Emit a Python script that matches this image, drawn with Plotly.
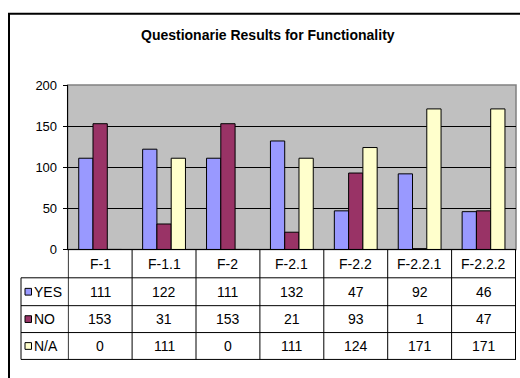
import plotly.graph_objects as go

categories = ["F-1", "F-1.1", "F-2", "F-2.1", "F-2.2", "F-2.2.1", "F-2.2.2"]
yes_vals = [111, 122, 111, 132, 47, 92, 46]
no_vals = [153, 31, 153, 21, 93, 1, 47]
na_vals = [0, 111, 0, 111, 124, 171, 171]
series_names = ["YES", "NO", "N/A"]
series_colors = ["#9999FF", "#993366", "#FFFFCC"]
title_text = "Questionarie Results for Functionality"

W, H = 520, 378
FONT = "Liberation Sans, Arial, sans-serif"

def px(x):
    return x / W

def py(y):
    return 1 - y / H

PL, PR, PT, PB = 67.7, 516.0, 81.3, 252.5
ROWS = [PB, 282.0, 311.0, 339.0, 367.0]
TL = 21.0

series = [yes_vals, no_vals, na_vals]

fig = go.Figure()
for name, vals, col in zip(series_names, series, series_colors):
    fig.add_trace(go.Bar(
        x=categories, y=vals, name=name,
        marker=dict(color=col, line=dict(color="black", width=1)),
        showlegend=False, hoverinfo="skip",
    ))

shapes = []
annotations = []

# outer frame
shapes.append(dict(type="rect", xref="paper", yref="paper",
                   x0=px(9), x1=px(540), y0=py(7), y1=py(400),
                   line=dict(color="black", width=2), layer="above"))
# plot area border (gray)
shapes.append(dict(type="rect", xref="x domain", yref="y domain",
                   x0=0, x1=1, y0=0, y1=1,
                   line=dict(color="#808080", width=1.5), layer="below"))

n = len(categories)
# horizontal table lines
for i, yy in enumerate(ROWS):
    x0 = px(PL) if i == 0 else px(TL)
    shapes.append(dict(type="line", xref="paper", yref="paper",
                       x0=x0, x1=px(PR), y0=py(yy), y1=py(yy),
                       line=dict(color="black", width=1)))
# vertical table lines
shapes.append(dict(type="line", xref="paper", yref="paper",
                   x0=px(TL), x1=px(TL), y0=py(ROWS[1]), y1=py(ROWS[-1]),
                   line=dict(color="black", width=1)))
for k in range(n + 1):
    shapes.append(dict(type="line", xref="x", yref="paper",
                       x0=k - 0.5, x1=k - 0.5, y0=py(PB), y1=py(ROWS[-1]),
                       line=dict(color="black", width=1)))

tfont = dict(family=FONT, size=14, color="black")
# category row
for i, c in enumerate(categories):
    annotations.append(dict(x=i, y=py((ROWS[0] + ROWS[1]) / 2), xref="x", yref="paper",
                            text=c, showarrow=False, font=tfont,
                            xanchor="center", yanchor="middle"))
# value rows
for r, (name, vals, col) in enumerate(zip(series_names, series, series_colors)):
    yc = (ROWS[r + 1] + ROWS[r + 2]) / 2
    for i, v in enumerate(vals):
        annotations.append(dict(x=i, y=py(yc), xref="x", yref="paper",
                                text=str(v), showarrow=False, font=tfont,
                                xanchor="center", yanchor="middle"))
    shapes.append(dict(type="rect", xref="paper", yref="paper",
                       x0=px(25), x1=px(31.5), y0=py(yc - 3.5), y1=py(yc + 3.5),
                       fillcolor=col, line=dict(color="black", width=1)))
    annotations.append(dict(x=px(32), y=py(yc), xref="paper", yref="paper",
                            text=name, showarrow=False, font=tfont,
                            xanchor="left", yanchor="middle"))

# title
annotations.append(dict(x=px(268), y=py(29), xref="paper", yref="paper",
                        text="<b>" + title_text + "</b>", showarrow=False,
                        font=dict(family=FONT, size=14, color="black"),
                        xanchor="center", yanchor="middle"))

fig.update_layout(
    width=W, height=H,
    margin=dict(l=0, r=0, t=0, b=0),
    paper_bgcolor="white",
    plot_bgcolor="#C0C0C0",
    barmode="group", bargap=0.33, bargroupgap=0,
    shapes=shapes, annotations=annotations,
    xaxis=dict(domain=[px(PL), px(PR)], showticklabels=False, ticks="",
               showline=True, linecolor="black", linewidth=1,
               showgrid=False, zeroline=False, fixedrange=True),
    yaxis=dict(domain=[py(PB), py(PT)], range=[0, 200], dtick=50,
               showline=True, linecolor="black", linewidth=1,
               ticks="outside", ticklen=4, tickcolor="black",
               ticklabelstandoff=3,
               showgrid=True, gridcolor="black", gridwidth=1,
               zeroline=False,
               tickfont=dict(family=FONT, size=13, color="black"),
               fixedrange=True),
)

fig.write_html("out.html")
